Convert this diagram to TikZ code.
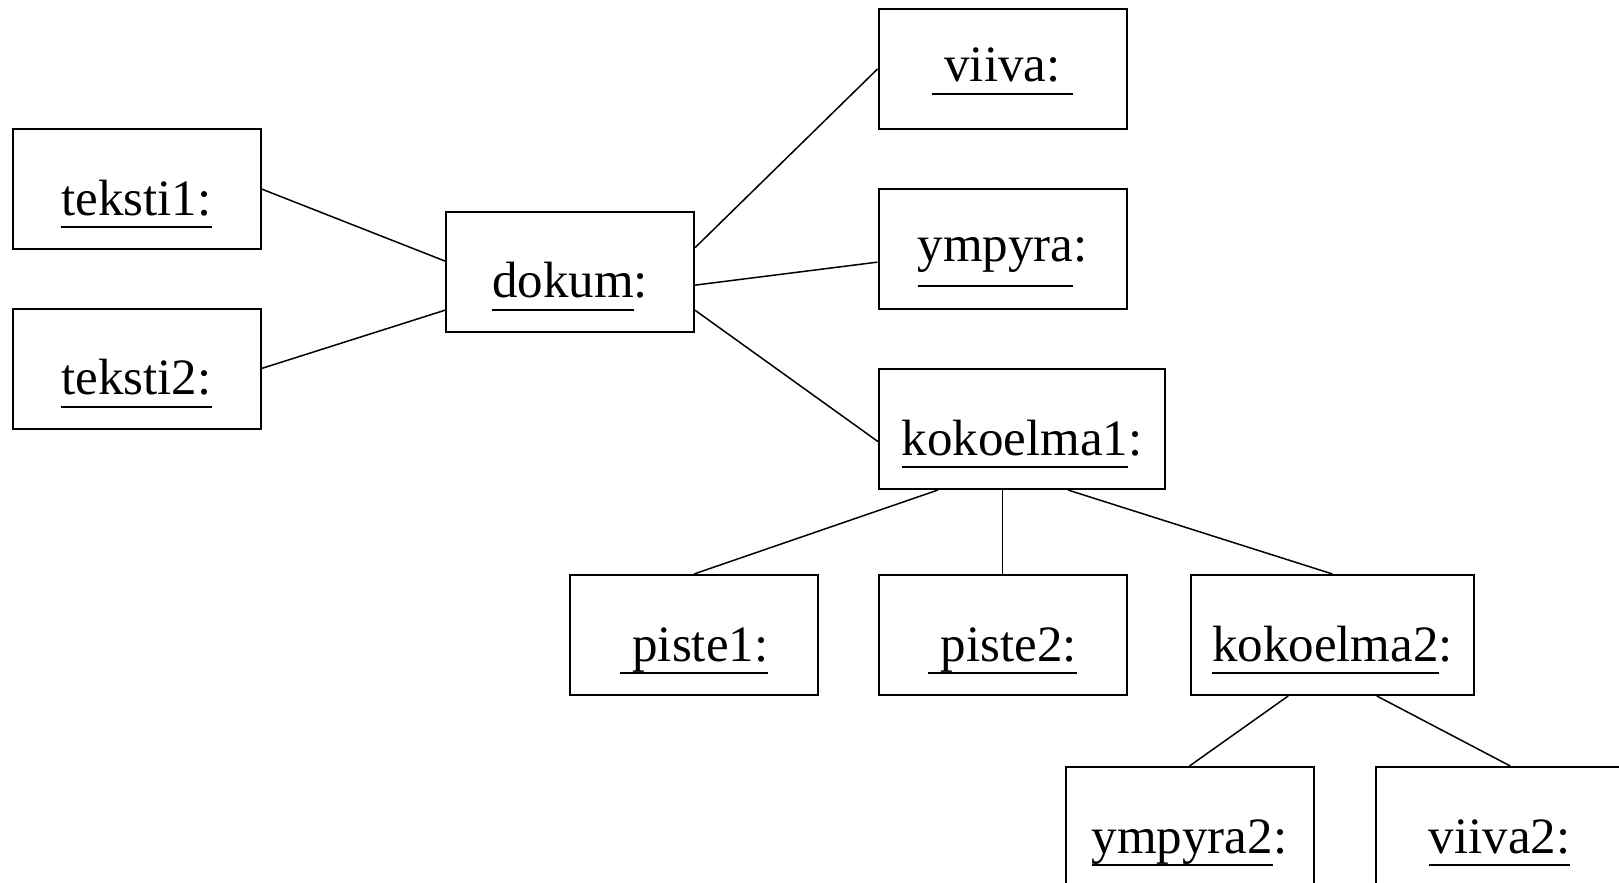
\documentclass[tikz,border=0pt]{standalone}
\usepackage{fontspec}
\setmainfont{Liberation Serif}
\usepackage{tikz}

% object name with the rule drawn under it
\newcommand\objname[2][6.5pt]{\setbox0\hbox{#2}\rlap{\rule[-#1]{\wd0}{1pt}}\box0}

\begin{document}
\begin{tikzpicture}[x=0.5pt,y=-0.5pt,
    font=\fontsize{25.5}{30}\selectfont,
    obj/.style={draw,line width=1pt,inner sep=0pt,minimum width=124pt,minimum height=60pt,text height=32.5pt,text depth=6.5pt},
    objhi/.style={obj,text depth=19.5pt},
    link/.style={line width=0.75pt}]
  \useasboundingbox (0,0) rectangle (1619,883);

  % objects
  \node[obj] (teksti1) at (136.5,189) {\objname{teksti1:}};
  \node[obj] (teksti2) at (136.5,368.5) {\objname{teksti2:}};
  \node[obj] (dokum) at (570,272) {\objname{dokum}:};
  \node[objhi] (viiva) at (1002.5,69) {\objname{\ viiva:\ }};
  \node[objhi] (ympyra) at (1002.5,249) {\objname[12.5pt]{ympyra}:};
  \node[obj,minimum width=143pt] (kokoelma1) at (1022,429) {\objname{kokoelma1}:};
  \node[obj] (piste1) at (694,635) {\objname{\ piste1:}};
  \node[obj] (piste2) at (1002.5,635) {\objname{\ piste2:}};
  \node[obj,minimum width=141.5pt] (kokoelma2) at (1332.5,635) {\objname{kokoelma2}:};
  \node[obj] (ympyra2) at (1189.5,827) {\objname{ympyra2}:};
  \node[obj] (viiva2) at (1499.5,827) {\objname{viiva2:}};

  % links between them
  \draw[link] (teksti1.east) -- (dokum.175);
  \draw[link] (teksti2.east) -- (dokum.197);
  \draw[link] (dokum.11) -- (viiva.west);
  \draw[link] (dokum.-6) -- (ympyra.186);
  \draw[link] (dokum.-17) -- (kokoelma1.185);
  \draw[link] (kokoelma1.216) -- (piste1.north);
  \draw[link] (piste2.north) -- (piste2.north |- kokoelma1.south);
  \draw[link] (kokoelma1.-53) -- (kokoelma2.north);
  \draw[link] (kokoelma2.234) -- (ympyra2.north);
  \draw[link] (kokoelma2.-54) -- (viiva2.80);
\end{tikzpicture}
\end{document}
